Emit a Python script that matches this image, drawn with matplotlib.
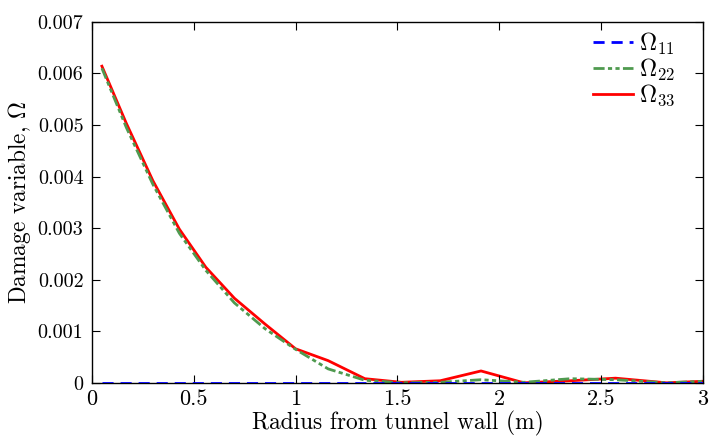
import matplotlib
matplotlib.use("Agg")
import matplotlib.pyplot as plt
import numpy as np

plt.rcParams["font.family"] = "serif"
plt.rcParams["font.serif"] = ["cmr10"]
plt.rcParams["mathtext.fontset"] = "cm"
plt.rcParams["axes.formatter.use_mathtext"] = True

# Radial positions of the nodes (m)
radius = [0.05, 0.17, 0.30, 0.43, 0.56, 0.70, 0.85, 1.00, 1.16, 1.34, 1.52,
          1.71, 1.91, 2.12, 2.35, 2.57, 2.82, 3.00]

# Damage components
omega_11 = [0.0] * len(radius)
omega_22 = [0.00610, 0.00495, 0.00385, 0.00290, 0.00218, 0.00155, 0.00105,
            0.00065, 0.00027, 0.00005, 0.0, 0.00001, 0.00006, 0.00001,
            0.00008, 0.00006, 0.0, 0.00003]
omega_33 = [0.00614, 0.00503, 0.00392, 0.00298, 0.00224, 0.00164, 0.00114,
            0.00066, 0.00043, 0.00008, 0.00001, 0.00004, 0.00023, 0.0,
            0.00004, 0.00009, 0.0, 0.00003]

xticks = [0, 0.5, 1, 1.5, 2, 2.5, 3]
xticklabels = ["0", "0.5", "1", "1.5", "2", "2.5", "3"]
yticks = [0, 0.001, 0.002, 0.003, 0.004, 0.005, 0.006, 0.007]
yticklabels = ["0", "0.001", "0.002", "0.003", "0.004", "0.005", "0.006", "0.007"]

fig = plt.figure(figsize=(7.11, 4.37), dpi=100)
ax = fig.add_axes([0.129, 0.124, 0.860, 0.826])

ax.plot(radius, omega_11, color="#0000ff", linestyle=(0, (4, 2.5)), lw=2.0,
        label=r"$\Omega_{11}$", zorder=3)
ax.plot(radius, omega_22, color="#4f9a4f", linestyle=(0, (4, 1.2, 1.5, 1.2, 1.5, 1.2)),
        lw=2.0, label=r"$\Omega_{22}$", zorder=2)
ax.plot(radius, omega_33, color="#ff0000", linestyle="-", lw=2.0,
        label=r"$\Omega_{33}$", zorder=1)

ax.set_xlim(0, 3)
ax.set_ylim(0, 0.007)
ax.set_xticks(xticks)
ax.set_xticklabels(xticklabels)
ax.set_yticks(yticks)
ax.set_yticklabels(yticklabels)
ax.tick_params(direction="in", top=True, right=True, length=6, width=0.8)
ax.tick_params(axis="x", labelsize=16, pad=5)
ax.tick_params(axis="y", labelsize=14.5, pad=6)
for s in ax.spines.values():
    s.set_linewidth(1.0)

ax.set_xlabel("Radius from tunnel wall (m)", fontsize=16.8, labelpad=1)
ax.set_ylabel(r"Damage variable, $\Omega$", fontsize=16.8, labelpad=3)

ax.legend(loc="upper right", bbox_to_anchor=(0.954, 0.976), frameon=False,
          fontsize=17, handlelength=1.7, labelspacing=0.0,
          borderaxespad=0.0, borderpad=0.0, handletextpad=0.25)

fig.savefig("out.png", dpi=100)
